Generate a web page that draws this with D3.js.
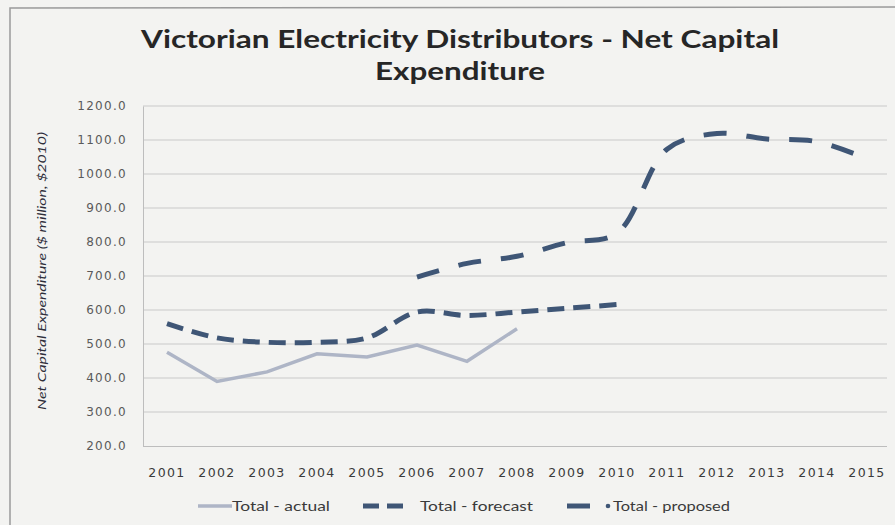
<!DOCTYPE html>
<html>
<head>
<meta charset="utf-8">
<script src="https://cdn.jsdelivr.net/npm/d3@7"></script>
<style>
  html, body { margin: 0; padding: 0; background: #f3f3f1; }
  svg { display: block; }
</style>
</head>
<body>
<svg id="chart" width="895" height="525"></svg>
<script>
const years = ["2001","2002","2003","2004","2005","2006","2007","2008","2009","2010","2011","2012","2013","2014","2015"];
const actualYears = ["2001","2002","2003","2004","2005","2006","2007","2008"];
const actualValues = [476, 390, 418, 471, 462, 497, 449, 545];
const forecastYears = ["2001","2002","2003","2004","2005","2006","2007","2008","2009","2010"];
const forecastValues = [560, 518, 505, 505, 518, 594, 584, 594, 605, 616];
const proposedYears = ["2006","2007","2008","2009","2010","2011","2012","2013","2014","2015"];
const proposedValues = [697, 737, 758, 798, 826, 1073, 1119, 1103, 1095, 1045];
const yTicks = [200, 300, 400, 500, 600, 700, 800, 900, 1000, 1100, 1200];
const titleLines = ["Victorian Electricity Distributors - Net Capital", "Expenditure"];
const yTitle = "Net Capital Expenditure ($ million, $2010)";
const legendLabels = ["Total - actual", "Total - forecast", "Total - proposed"];

const svg = d3.select("#chart");
const W = 895, H = 525;
svg.append("rect").attr("width", W).attr("height", H).attr("fill", "#f3f3f1");

// frame
svg.append("path").attr("d", "M10,525 L10,8 L895,7").attr("fill", "none")
  .attr("stroke", "#9a9a9a").attr("stroke-width", 1.5);

const x = d3.scaleBand().domain(years).range([142, 892]);
const xc = d => x(d) + x.bandwidth() / 2;
const y = d3.scaleLinear().domain([200, 1200]).range([446, 106]);

// gridlines
const grid = svg.append("g");
grid.selectAll("line").data(yTicks.filter(t => t > 200)).join("line")
  .attr("x1", 143).attr("x2", 887)
  .attr("y1", d => y(d)).attr("y2", d => y(d))
  .attr("stroke", "#c9c9c9").attr("stroke-width", 1);

// axes
const yAxis = d3.axisLeft(y).tickValues(yTicks).tickFormat(d3.format(".1f")).tickSize(0).tickPadding(16);
const gy = svg.append("g").attr("transform", "translate(143,0)").call(yAxis);
gy.select(".domain").attr("stroke", "#bdbdbd");
gy.selectAll("text").attr("font-family", "DejaVu Sans").attr("font-size", 12)
  .attr("fill", "#5a5a5a").attr("letter-spacing", 1.3);

const xAxis = d3.axisBottom(x).tickSize(0).tickPadding(22);
const gx = svg.append("g").attr("transform", "translate(0,446)").call(xAxis);
gx.select(".domain").attr("stroke", "#bdbdbd").attr("d", "M143,0.5H887");
gx.selectAll("text").attr("font-family", "DejaVu Sans").attr("font-size", 12.5)
  .attr("fill", "#3a3a3a").attr("letter-spacing", 1.4);

// lines
const lineStraight = d3.line().x(d => xc(d[0])).y(d => y(d[1]));
const lineSmooth = d3.line().x(d => xc(d[0])).y(d => y(d[1])).curve(d3.curveCatmullRom.alpha(0.5));

const dashColor = "#3f5676";
svg.append("path").datum(actualYears.map((d, i) => [d, actualValues[i]]))
  .attr("d", lineStraight).attr("fill", "none").attr("stroke", "#aeb5c6").attr("stroke-width", 3.5);
svg.append("path").datum(forecastYears.map((d, i) => [d, forecastValues[i]]))
  .attr("d", lineSmooth).attr("fill", "none").attr("stroke", dashColor).attr("stroke-width", 5)
  .attr("stroke-dasharray", "17,9");
svg.append("path").datum(proposedYears.map((d, i) => [d, proposedValues[i]]))
  .attr("d", lineSmooth).attr("fill", "none").attr("stroke", dashColor).attr("stroke-width", 5)
  .attr("stroke-dasharray", "23,20");

// title
const title = svg.append("text")
  .attr("font-family", "Lato, 'Open Sans', sans-serif").attr("font-weight", "bold")
  .attr("font-size", 25).attr("fill", "#262626");
title.append("tspan").attr("x", 141).attr("y", 48)
  .attr("textLength", 638).attr("lengthAdjust", "spacingAndGlyphs").text(titleLines[0]);
title.append("tspan").attr("x", 375).attr("y", 80)
  .attr("textLength", 170).attr("lengthAdjust", "spacingAndGlyphs").text(titleLines[1]);

// y title
svg.append("text").attr("transform", "translate(46,271) rotate(-90)")
  .attr("x", -139).attr("font-family", "Lato, sans-serif")
  .attr("font-style", "italic").attr("font-size", 12).attr("fill", "#2e2e3a")
  .attr("textLength", 278).attr("lengthAdjust", "spacingAndGlyphs")
  .text(yTitle);

// legend
const lg = svg.append("g").attr("font-family", "Lato, sans-serif").attr("font-size", 13.5)
  .attr("fill", "#3a3a3a");
const ly = 506;
lg.append("line").attr("x1", 198).attr("x2", 232).attr("y1", ly).attr("y2", ly)
  .attr("stroke", "#aeb5c6").attr("stroke-width", 3.5);
lg.append("text").attr("x", 232).attr("y", ly + 5).attr("textLength", 98)
  .attr("lengthAdjust", "spacingAndGlyphs").text(legendLabels[0]);
lg.append("line").attr("x1", 363).attr("x2", 403).attr("y1", ly).attr("y2", ly)
  .attr("stroke", dashColor).attr("stroke-width", 5).attr("stroke-dasharray", "16,8");
lg.append("text").attr("x", 420).attr("y", ly + 5).attr("textLength", 113)
  .attr("lengthAdjust", "spacingAndGlyphs").text(legendLabels[1]);
lg.append("line").attr("x1", 567).attr("x2", 590).attr("y1", ly).attr("y2", ly)
  .attr("stroke", dashColor).attr("stroke-width", 5);
lg.append("circle").attr("cx", 608).attr("cy", ly).attr("r", 2.3).attr("fill", dashColor);
lg.append("text").attr("x", 613).attr("y", ly + 5).attr("textLength", 117)
  .attr("lengthAdjust", "spacingAndGlyphs").text(legendLabels[2]);
</script>
</body>
</html>
